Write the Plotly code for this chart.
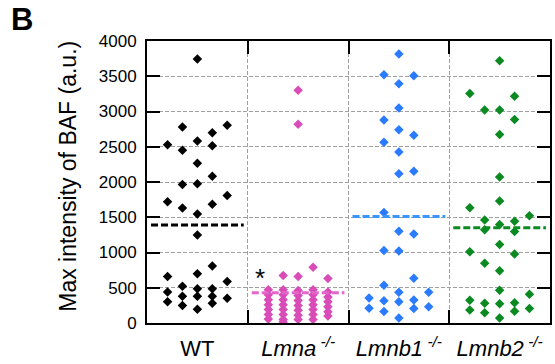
import plotly.graph_objects as go

# ---------------- data ----------------
categories = ["WT", "Lmna", "Lmnb1", "Lmnb2"]
tick_labels = [
    "WT",
    "<i>Lmna</i><sup><i> -/-</i></sup>",
    "<i>Lmnb1</i><sup><i> -/-</i></sup>",
    "<i>Lmnb2</i><sup><i> -/-</i></sup>",
]
y_ticks = [0, 500, 1000, 1500, 2000, 2500, 3000, 3500, 4000]

# each group: five jitter columns, left to right
wt_values = [
    [2530, 1720, 660, 440, 300],
    [2780, 2450, 1965, 1630, 520, 380, 250],
    [3745, 2580, 2265, 1975, 1545, 1250, 700, 485, 380, 195],
    [2700, 2515, 2080, 1685, 810, 485, 380, 280],
    [2805, 1810, 590, 350],
]
lmna_values = [
    [470, 400, 330, 260, 190, 120, 55],
    [675, 470, 400, 330, 260, 190, 120, 50, 15],
    [3300, 2820, 660, 460, 390, 320, 250, 180, 110, 50],
    [790, 470, 400, 330, 260, 190, 120, 50],
    [630, 440, 370, 300, 230, 160, 100],
]
lmnb1_values = [
    [353, 210],
    [3520, 2878, 2565, 1569, 1028, 535, 316, 162],
    [3814, 3395, 3050, 2742, 2425, 2118, 1303, 1020, 437, 302, 70],
    [3506, 2663, 2151, 1261, 633, 325, 204],
    [437, 232],
]
lmnb2_values = [
    [3255, 1634, 1010, 321, 186],
    [3022, 1461, 1322, 847, 279, 144],
    [3720, 3022, 2672, 2072, 1732, 1397, 1112, 740, 465, 274, 70],
    [3217, 2886, 1443, 1299, 978, 288, 168],
    [1523, 409, 204],
]
group_means = [1390, 428, 1509, 1350]
star_value = 640  # height of the significance asterisk

# ---------------- styling ----------------
marker_colors = ["#000000", "#d94cb8", "#2a7bff", "#0b8a21"]
mean_colors = ["#000000", "#e466c8", "#3b95ff", "#0b8a21"]
FONT = "Liberation Sans, Arial, sans-serif"
col_step = 0.148
half_width = 0.46

groups = [wt_values, lmna_values, lmnb1_values, lmnb2_values]

fig = go.Figure()

for gi, cols in enumerate(groups):
    xs, ys = [], []
    for ci, col in enumerate(cols):
        for v in col:
            xs.append(gi + (ci - 2) * col_step)
            ys.append(v)
    fig.add_trace(go.Scatter(
        x=xs, y=ys, mode="markers",
        marker=dict(symbol="diamond", size=7.3, color=marker_colors[gi],
                    line=dict(width=0)),
        showlegend=False, hoverinfo="skip",
    ))

for gi, m in enumerate(group_means):
    fig.add_trace(go.Scatter(
        x=[gi - half_width, gi + half_width], y=[m, m], mode="lines",
        line=dict(color=mean_colors[gi], width=3, dash="7px,3px"),
        showlegend=False, hoverinfo="skip",
    ))

fig.update_layout(
    width=555, height=364,
    margin=dict(l=147, r=3, t=41, b=37),
    paper_bgcolor="white", plot_bgcolor="white",
    font=dict(family=FONT, color="black"),
    xaxis=dict(
        range=[-0.5, 3.5],
        tickmode="array", tickvals=[0, 1, 2, 3], ticktext=tick_labels,
        ticks="", showgrid=False, zeroline=False,
        tickfont=dict(size=22, family=FONT, color="black"),
        showline=True, linecolor="black", linewidth=2, mirror="ticks",
        ticklabelstandoff=5,
        minor=dict(tickmode="array", tickvals=[0.5, 1.5, 2.5],
                   ticks="inside", ticklen=13, tickwidth=2, tickcolor="black",
                   showgrid=True, gridcolor="#a0a0a0", gridwidth=1,
                   griddash="4px,2px"),
    ),
    yaxis=dict(
        range=[0, 4000],
        tickmode="array", tickvals=y_ticks,
        ticks="inside", ticklen=13, tickwidth=2, tickcolor="black",
        showgrid=True, gridcolor="#a0a0a0", gridwidth=1, griddash="4px,2px",
        zeroline=False,
        tickfont=dict(size=17, family=FONT, color="black"),
        showline=True, linecolor="black", linewidth=2, mirror="ticks",
        ticklabelstandoff=5,
    ),
    annotations=[
        dict(text="Max intensity of BAF (a.u.)", textangle=-90,
             xref="paper", yref="paper", x=-0.195, y=0.52,
             xanchor="center", yanchor="middle", showarrow=False,
             font=dict(size=23, family=FONT, color="black")),
        dict(text="<b>B</b>", xref="paper", yref="paper",
             x=-0.31, y=1.075, xanchor="center", yanchor="middle",
             showarrow=False, font=dict(size=31, family=FONT, color="black")),
        dict(text="*", xref="x", yref="y", x=1 - 0.38, y=star_value,
             xanchor="center", yanchor="middle", showarrow=False,
             font=dict(size=26, family=FONT, color="black")),
    ],
)

fig.write_html("out.html")
